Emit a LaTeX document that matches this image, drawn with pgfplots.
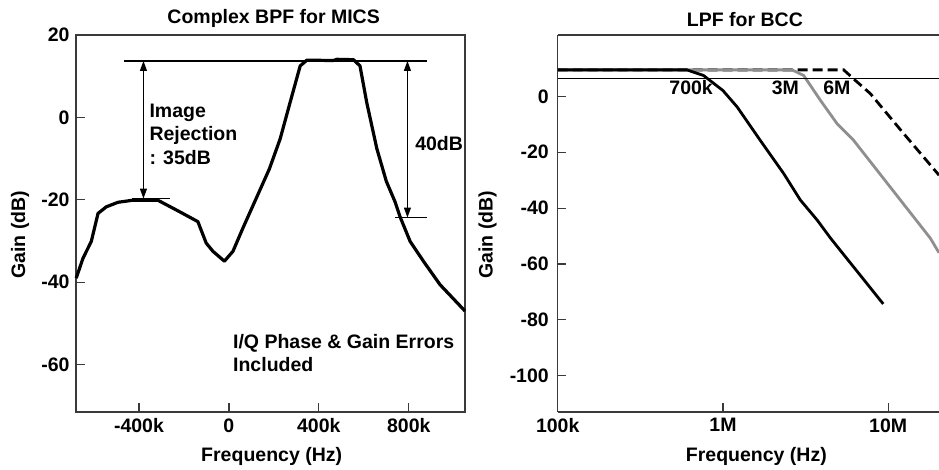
\documentclass[border=0pt]{standalone}
\usepackage{pgfplots}
\pgfplotsset{compat=1.18}
\usepackage{fontspec}
\setmainfont{Liberation Sans}
\usetikzlibrary{arrows.meta}
\definecolor{lgray}{HTML}{8F8F8F}
\definecolor{frame}{HTML}{3A3A3A}

\pgfplotsset{
  bcc/.style={
    scale only axis, height=377pt,
    axis line style={frame,line width=1.4pt},
    tick style={frame,line width=1.2pt},
    tick align=inside, major tick length=8.5pt, tickpos=left,
    every tick label/.append style={font=\fontsize{19.5}{24}\selectfont\bfseries},
    label style={font=\fontsize{19.5}{24}\selectfont\bfseries},
    every axis title/.style={font=\fontsize{19.5}{24}\selectfont\bfseries,anchor=base},
    xticklabel style={yshift=-3pt},
    clip=false,
  },
}

\begin{document}
\begin{tikzpicture}[font=\fontsize{19.5}{24}\selectfont\bfseries]
\useasboundingbox (0,0) rectangle (939pt,470pt);

% ---- left: complex BPF
\begin{axis}[bcc, at={(76pt,58pt)}, anchor=south west, width=389pt,
  xmin=-680, xmax=1050, ymin=-71.5, ymax=20,
  xtick={-400,0,400,800}, xticklabels={-400k,0,400k,800k},
  ytick={-60,-40,-20,0,20}, yticklabels={-60,-40,-20,0,20},
  yticklabel style={xshift=-3pt},
  title={Complex BPF for MICS},
  title style={at={(axis description cs:0.508,1.031)}},
  xlabel={Frequency (Hz)}, ylabel={Gain (dB)},
  every axis x label/.style={at={(axis description cs:0.503,-0.132)},anchor=base},
  every axis y label/.style={at={(axis description cs:-0.144,0.47)},rotate=90,anchor=center},
]
\addplot[black,line width=3.2pt,line join=round] coordinates {
 (-679,-39) (-649,-34.2) (-612,-30.1) (-582,-23.3) (-545,-21.7) (-493,-20.6)
 (-427,-20.1) (-316,-20.1) (-219,-22.9) (-138,-25.3) (-101,-30.5) (-71,-32.5)
 (-20,-34.9) (18,-32.5) (62,-26.9) (121,-19.7) (180,-12.5) (228,-5.2) (272,3.6)
 (317,12.5) (347,13.9) (465,13.8) (480,14.1) (554,14.0) (583,12.5) (613,3.6)
 (658,-7.6) (700,-15.5) (739,-20.5) (761,-24.1) (806,-30.1) (865,-34.9)
 (939,-40.6) (1050,-47)
};
% annotation lines
\addplot[black,line width=1.1pt] coordinates {(-465,13.7) (880,13.7)};
\addplot[black,line width=1.1pt] coordinates {(-430,-19.7) (-260,-19.7)};
\addplot[black,line width=1.1pt] coordinates {(739,-24.3) (883,-24.3)};
\draw[line width=1pt,{Triangle[length=10pt,width=7pt]}-{Triangle[length=10pt,width=7pt]}]
  (axis cs:-380,13.7) -- (axis cs:-380,-19.7);
\draw[line width=1pt,{Triangle[length=10pt,width=7pt]}-{Triangle[length=10pt,width=7pt]}]
  (axis cs:794,13.7) -- (axis cs:794,-24.3);
\node[anchor=base west,inner sep=0pt] at (axis cs:-354,0) {Image};
\node[anchor=base west,inner sep=0pt] at (axis cs:-354,-5.6) {Rejection};
\node[anchor=base west,inner sep=0pt] at (axis cs:-354,-11.4) {: 35dB};
\node[anchor=base west,inner sep=0pt] at (axis cs:828,-8.0) {40dB};
\node[anchor=base west,inner sep=0pt] at (axis cs:18,-56.0) {I/Q Phase \& Gain Errors};
\node[anchor=base west,inner sep=0pt] at (axis cs:18,-61.6) {Included};
\end{axis}

% ---- right: LPF for BCC
\begin{axis}[bcc, at={(557.7pt,58pt)}, anchor=south west, width=381.3pt,
  xmode=log, xmin=1e5, xmax=2.03e7, ymin=-113, ymax=22,
  axis x line*=bottom, axis y line*=left,
  xtick={1e5,1e6,1e7}, xticklabels={100k,1M,10M}, xminorticks=false,
  ytick={-100,-80,-60,-40,-20,0}, yticklabels={-100,-80,-60,-40,-20,0},
  yticklabel style={xshift=-5.4pt},
  title={LPF for BCC},
  title style={at={(axis description cs:0.491,1.022)}},
  xlabel={Frequency (Hz)}, ylabel={Gain (dB)},
  every axis x label/.style={at={(axis description cs:0.521,-0.132)},anchor=base},
  every axis y label/.style={at={(axis description cs:-0.184,0.47)},rotate=90,anchor=center},
]
\draw[frame,line width=1.4pt] (rel axis cs:0,1) -- (rel axis cs:1,1);
% 6M (dashed)
\addplot[black,line width=2.8pt,dash pattern=on 10pt off 5pt] coordinates {
 (1e5,9.5) (5.38e6,9.5) (6.17e6,6.3) (7.8e6,1.0) (1.24e7,-13.3) (2.03e7,-28.2)
};
% 3M (gray)
\addplot[lgray,line width=2.8pt] coordinates {
 (1e5,9.5) (2.62e6,9.5) (3.08e6,7.5) (3.89e6,-1.4) (4.91e6,-9.8) (6.17e6,-15.7)
 (1.8e7,-50.8) (2.03e7,-56)
};
% 700k (black)
\addplot[black,line width=2.8pt,line join=round] coordinates {
 (1e5,9.5) (6.05e5,9.5) (7.63e5,7.5) (1e6,2.1) (1.22e6,-3.8) (1.68e6,-15.7)
 (2.33e6,-27.6) (2.94e6,-37.1) (3.72e6,-44.3) (4.47e6,-50.7) (9.33e6,-74.3)
};
\addplot[black,line width=1.2pt] coordinates {(1e5,6.5) (2.03e7,6.5)};
\node[anchor=base west,inner sep=0pt] at (axis cs:4.73e5,0.7) {700k};
\node[anchor=base west,inner sep=0pt] at (axis cs:1.97e6,0.7) {3M};
\node[anchor=base west,inner sep=0pt] at (axis cs:4.04e6,0.7) {6M};
\end{axis}
\end{tikzpicture}
\end{document}
